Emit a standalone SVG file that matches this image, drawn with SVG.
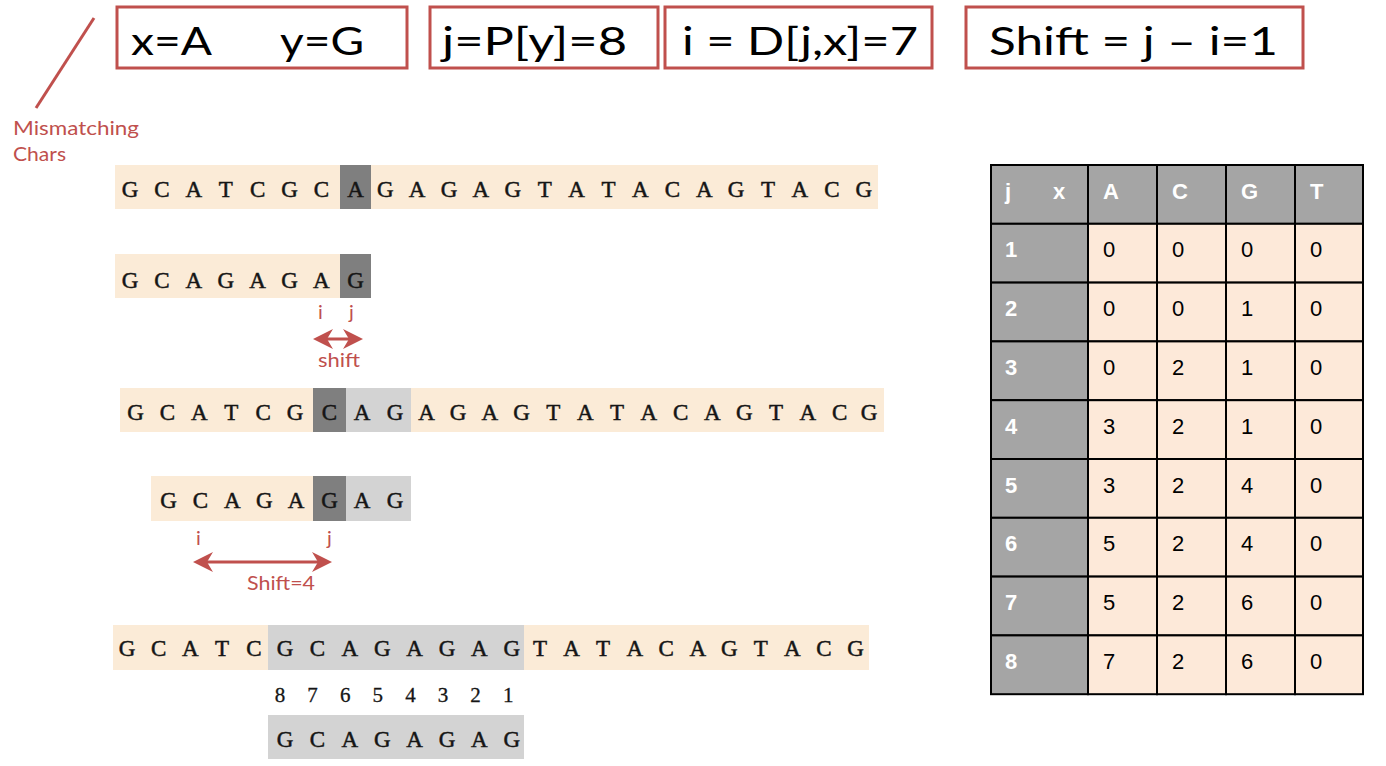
<svg xmlns="http://www.w3.org/2000/svg" width="1386" height="766" viewBox="0 0 1386 766">
<style>
.box{fill:none;stroke:#c0504d;stroke-width:3}
.big{font-family:Lato,"Open Sans",sans-serif;font-size:39px;fill:#000}
.red{font-family:Lato,"Open Sans",sans-serif;font-size:20px;fill:#c0504d}
.bg{fill:#fbebd7}
.dk{fill:#7f7f7f}
.lt{fill:#d3d3d3}
.seq{font-family:"Liberation Serif","Times New Roman",serif;font-size:23px;fill:#151515;stroke:#151515;stroke-width:0.5;text-anchor:middle}
.num{font-family:"Liberation Serif","Times New Roman",serif;font-size:21px;fill:#151515;stroke:#151515;stroke-width:0.3;text-anchor:middle}
.red-line{stroke:#c0504d;stroke-width:3;fill:none}
.hd{fill:#a5a5a5;stroke:#000;stroke-width:2}
.cell{fill:#fde9d9;stroke:#000;stroke-width:2}
.th{font-family:"Liberation Sans",Arial,sans-serif;font-size:22px;font-weight:bold;fill:#fff}
.td{font-family:"Liberation Sans",Arial,sans-serif;font-size:22px;fill:#000}
</style>
<defs>
<marker id="ah" viewBox="0 -10 20 20" refX="14" refY="0" markerWidth="20" markerHeight="20" markerUnits="userSpaceOnUse" orient="auto-start-reverse">
<path d="M20,0 L0,-10 L6,0 L0,10 Z" fill="#c0504d"/>
</marker>
</defs>
<rect width="1386" height="766" fill="#fff"/>

<g id="box-xy">
<rect class="box" x="117" y="7" width="290" height="61"/>
<text class="big" x="131" y="55" textLength="81" lengthAdjust="spacingAndGlyphs">x=A</text>
<text class="big" x="280" y="55" textLength="84" lengthAdjust="spacingAndGlyphs">y=G</text>
</g>
<g id="box-j">
<rect class="box" x="430" y="7" width="228" height="61"/>
<text class="big" x="442" y="55" textLength="185" lengthAdjust="spacingAndGlyphs">j=P[y]=8</text>
</g>
<g id="box-i">
<rect class="box" x="665" y="7" width="267" height="61"/>
<text class="big" x="682" y="55" textLength="236" lengthAdjust="spacingAndGlyphs">i = D[j,x]=7</text>
</g>
<g id="box-shift">
<rect class="box" x="966" y="7" width="337" height="61"/>
<text class="big" x="989" y="55" textLength="289" lengthAdjust="spacingAndGlyphs">Shift = j – i=1</text>
</g>

<g id="label-mismatch">
<text class="red" x="13" y="135" textLength="126" lengthAdjust="spacingAndGlyphs">Mismatching</text>
<text class="red" x="13" y="161" textLength="53" lengthAdjust="spacingAndGlyphs">Chars</text>
</g>

<g id="row1">
<rect class="bg" x="115" y="165" width="763" height="44"/>
<rect class="dk" x="340" y="165" width="31" height="44"/>
<text class="seq" y="197" x="130 161.9 193.8 225.7 257.6 289.5 321.4 355.5 385.2 417.1 449 480.9 512.8 544.7 576.6 608.5 640.4 672.3 704.2 736.1 768 799.9 831.8 863.7">GCATCGCAGAGAGTATACAGTACG</text>
</g>

<g id="row2">
<rect class="bg" x="115" y="254" width="256" height="44"/>
<rect class="dk" x="340" y="254" width="31" height="44"/>
<text class="seq" y="288" x="130 161.9 193.8 225.7 257.6 289.5 321.4 355.5">GCAGAGAG</text>
<text class="red" x="318" y="319">i</text>
<text class="red" x="349" y="319">j</text>
<text class="red" x="318" y="367" textLength="42" lengthAdjust="spacingAndGlyphs">shift</text>
</g>

<g id="row3">
<rect class="bg" x="120" y="388" width="764" height="44"/>
<rect class="dk" x="313" y="388" width="33" height="44"/>
<rect class="lt" x="346" y="388" width="65" height="44"/>
<text class="seq" y="420" x="135.5 167.4 199.3 231.2 263.1 295 329.5 362 395 426.5 458 489.8 521.6 553.4 585.2 617 648.8 680.6 712.4 744.2 776 807.8 839.6 869">GCATCGCAGAGAGTATACAGTACG</text>
</g>

<g id="row4">
<rect class="bg" x="151" y="476" width="260" height="45"/>
<rect class="dk" x="313" y="476" width="33" height="45"/>
<rect class="lt" x="346" y="476" width="65" height="45"/>
<text class="seq" y="508" x="168.5 200.4 232.3 264.2 296.1 329.5 362 395">GCAGAGAG</text>
<text class="red" x="196" y="545">i</text>
<text class="red" x="327" y="545">j</text>
<text class="red" x="247" y="590" textLength="68" lengthAdjust="spacingAndGlyphs">Shift=4</text>
</g>

<g id="row5">
<rect class="bg" x="113" y="625" width="756" height="45"/>
<rect class="lt" x="268" y="625" width="256" height="45"/>
<text class="seq" y="656" x="127 158.7 190.4 222.1 253.8 285 317.4 349.8 382.2 414.6 447 479.4 511.8 540 571.6 603.1 634.7 666.2 697.8 729.3 760.9 792.4 824 855.5">GCATCGCAGAGAGTATACAGTACG</text>
</g>

<g id="indices">
<text class="num" y="702" x="280 312.6 345.2 377.8 410.4 443 475.6 508.2">87654321</text>
</g>

<g id="row6">
<rect class="lt" x="268" y="715" width="256" height="44"/>
<text class="seq" y="747" x="285 317.4 349.8 382.2 414.6 447 479.4 511.8">GCAGAGAG</text>
</g>

<g id="connectors">
<line class="red-line" x1="94" y1="18" x2="36" y2="108"/>
<line class="red-line" x1="319" y1="339" x2="357" y2="339" marker-start="url(#ah)" marker-end="url(#ah)"/>
<line class="red-line" x1="199" y1="562" x2="326" y2="562" marker-start="url(#ah)" marker-end="url(#ah)"/>
</g>

<g id="table">
<rect class="hd" x="991" y="165" width="97" height="58.8"/>
<rect class="hd" x="1088" y="165" width="69" height="58.8"/>
<rect class="hd" x="1157" y="165" width="69" height="58.8"/>
<rect class="hd" x="1226" y="165" width="69" height="58.8"/>
<rect class="hd" x="1295" y="165" width="68" height="58.8"/>
<text class="th" x="1005" y="199">j</text>
<text class="th" x="1053" y="199">x</text>
<text class="th" x="1103" y="199">A</text>
<text class="th" x="1172" y="199">C</text>
<text class="th" x="1241" y="199">G</text>
<text class="th" x="1310" y="199">T</text>

<g id="trow1">
<rect class="hd" x="991" y="223.8" width="97" height="58.8"/>
<rect class="cell" x="1088" y="223.8" width="69" height="58.8"/><rect class="cell" x="1157" y="223.8" width="69" height="58.8"/><rect class="cell" x="1226" y="223.8" width="69" height="58.8"/><rect class="cell" x="1295" y="223.8" width="68" height="58.8"/>
<text class="th" x="1005" y="257.3">1</text><text class="td" x="1103" y="257.3">0</text><text class="td" x="1172" y="257.3">0</text><text class="td" x="1241" y="257.3">0</text><text class="td" x="1310" y="257.3">0</text>
</g>
<g id="trow2">
<rect class="hd" x="991" y="282.6" width="97" height="58.8"/>
<rect class="cell" x="1088" y="282.6" width="69" height="58.8"/><rect class="cell" x="1157" y="282.6" width="69" height="58.8"/><rect class="cell" x="1226" y="282.6" width="69" height="58.8"/><rect class="cell" x="1295" y="282.6" width="68" height="58.8"/>
<text class="th" x="1005" y="316.1">2</text><text class="td" x="1103" y="316.1">0</text><text class="td" x="1172" y="316.1">0</text><text class="td" x="1241" y="316.1">1</text><text class="td" x="1310" y="316.1">0</text>
</g>
<g id="trow3">
<rect class="hd" x="991" y="341.4" width="97" height="58.8"/>
<rect class="cell" x="1088" y="341.4" width="69" height="58.8"/><rect class="cell" x="1157" y="341.4" width="69" height="58.8"/><rect class="cell" x="1226" y="341.4" width="69" height="58.8"/><rect class="cell" x="1295" y="341.4" width="68" height="58.8"/>
<text class="th" x="1005" y="374.9">3</text><text class="td" x="1103" y="374.9">0</text><text class="td" x="1172" y="374.9">2</text><text class="td" x="1241" y="374.9">1</text><text class="td" x="1310" y="374.9">0</text>
</g>
<g id="trow4">
<rect class="hd" x="991" y="400.2" width="97" height="58.8"/>
<rect class="cell" x="1088" y="400.2" width="69" height="58.8"/><rect class="cell" x="1157" y="400.2" width="69" height="58.8"/><rect class="cell" x="1226" y="400.2" width="69" height="58.8"/><rect class="cell" x="1295" y="400.2" width="68" height="58.8"/>
<text class="th" x="1005" y="433.7">4</text><text class="td" x="1103" y="433.7">3</text><text class="td" x="1172" y="433.7">2</text><text class="td" x="1241" y="433.7">1</text><text class="td" x="1310" y="433.7">0</text>
</g>
<g id="trow5">
<rect class="hd" x="991" y="459" width="97" height="58.8"/>
<rect class="cell" x="1088" y="459" width="69" height="58.8"/><rect class="cell" x="1157" y="459" width="69" height="58.8"/><rect class="cell" x="1226" y="459" width="69" height="58.8"/><rect class="cell" x="1295" y="459" width="68" height="58.8"/>
<text class="th" x="1005" y="492.5">5</text><text class="td" x="1103" y="492.5">3</text><text class="td" x="1172" y="492.5">2</text><text class="td" x="1241" y="492.5">4</text><text class="td" x="1310" y="492.5">0</text>
</g>
<g id="trow6">
<rect class="hd" x="991" y="517.8" width="97" height="58.8"/>
<rect class="cell" x="1088" y="517.8" width="69" height="58.8"/><rect class="cell" x="1157" y="517.8" width="69" height="58.8"/><rect class="cell" x="1226" y="517.8" width="69" height="58.8"/><rect class="cell" x="1295" y="517.8" width="68" height="58.8"/>
<text class="th" x="1005" y="551.3">6</text><text class="td" x="1103" y="551.3">5</text><text class="td" x="1172" y="551.3">2</text><text class="td" x="1241" y="551.3">4</text><text class="td" x="1310" y="551.3">0</text>
</g>
<g id="trow7">
<rect class="hd" x="991" y="576.6" width="97" height="58.8"/>
<rect class="cell" x="1088" y="576.6" width="69" height="58.8"/><rect class="cell" x="1157" y="576.6" width="69" height="58.8"/><rect class="cell" x="1226" y="576.6" width="69" height="58.8"/><rect class="cell" x="1295" y="576.6" width="68" height="58.8"/>
<text class="th" x="1005" y="610.1">7</text><text class="td" x="1103" y="610.1">5</text><text class="td" x="1172" y="610.1">2</text><text class="td" x="1241" y="610.1">6</text><text class="td" x="1310" y="610.1">0</text>
</g>
<g id="trow8">
<rect class="hd" x="991" y="635.4" width="97" height="58.8"/>
<rect class="cell" x="1088" y="635.4" width="69" height="58.8"/><rect class="cell" x="1157" y="635.4" width="69" height="58.8"/><rect class="cell" x="1226" y="635.4" width="69" height="58.8"/><rect class="cell" x="1295" y="635.4" width="68" height="58.8"/>
<text class="th" x="1005" y="668.9">8</text><text class="td" x="1103" y="668.9">7</text><text class="td" x="1172" y="668.9">2</text><text class="td" x="1241" y="668.9">6</text><text class="td" x="1310" y="668.9">0</text>
</g>
</g>
</svg>
